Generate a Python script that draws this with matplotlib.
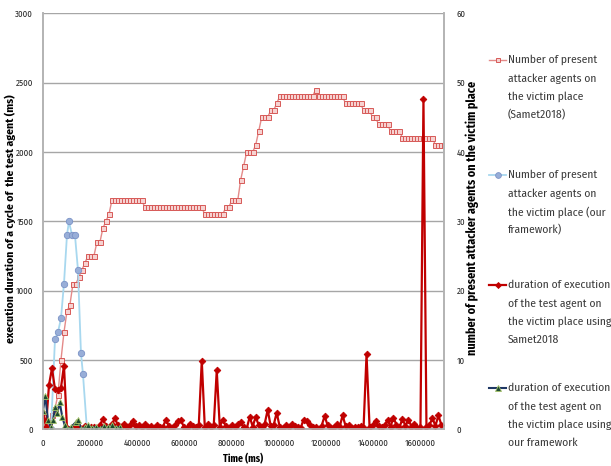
import matplotlib
matplotlib.use("Agg")
import matplotlib.pyplot as plt
from matplotlib.lines import Line2D

# ---------------- data ----------------
sample_step_ms = 12700  # sampling period of the Samet2018 experiment

samet_agents = [0, 0, 1, 2, 3, 5, 10, 14, 17, 18, 21, 21, 22, 23, 24, 25, 25, 25, 27, 27, 29, 30, 31,
                33, 33, 33, 33, 33, 33, 33, 33, 33, 33, 33,
                32, 32, 32, 32, 32, 32, 32, 32, 32, 32, 32, 32, 32, 32, 32, 32, 32, 32, 32, 32,
                31, 31, 31, 31, 31, 31, 31,
                32, 32, 33, 33, 33,
                36, 38, 40, 40, 40, 41, 43, 45, 45, 45, 46, 46, 47,
                48, 48, 48, 48, 48, 48, 48, 48, 48, 48, 48, 48,
                49,
                48, 48, 48, 48, 48, 48, 48, 48, 48,
                47, 47, 47, 47, 47, 47,
                46, 46, 46, 45, 45,
                44, 44, 44, 44, 43, 43, 43, 43,
                42, 42, 42, 42, 42, 42, 42, 42, 42, 42, 42,
                41, 41, 41, 41]

samet_duration = [120, 20, 320, 440, 290, 280, 300, 460, 10, 5,
                  15, 10, 20, 5, 25, 10, 15, 20, 5, 30,
                  75, 25, 10, 35, 80, 30, 15, 40, 20, 30,
                  60, 25, 30, 20, 35, 15, 25, 10, 30, 20,
                  15, 70, 25, 10, 30, 60, 65, 20, 10, 40,
                  25, 15, 30, 495, 20, 35, 15, 30, 425, 20,
                  70, 25, 10, 30, 20, 35, 50, 15, 5, 90,
                  20, 90, 30, 15, 40, 140, 25, 30, 120, 20,
                  10, 30, 15, 40, 25, 20, 10, 70, 60, 30,
                  20, 15, 5, 25, 95, 30, 10, 20, 35, 15,
                  100, 25, 30, 10, 20, 15, 25, 10, 540, 20,
                  30, 60, 25, 15, 30, 65, 20, 85, 30, 15,
                  75, 25, 70, 20, 35, 10, 15, 2380, 20, 30,
                  80, 25, 100, 30]

ours_agents_t = [0, 16900, 33900, 50800, 63500, 76200, 88900, 101600, 110000, 122800,
                 135500, 148200, 160900, 169300, 186300, 203000, 220000, 237000, 254000,
                 271000, 288000, 305000, 322000]
ours_agents = [0, 0, 0, 13, 14, 16, 21, 28, 30, 28,
               28, 23, 11, 8, 0, 0, 0, 0, 0,
               0, 0, 0, 0]

ours_duration_t = [0, 9700, 21200, 32600, 42300, 52100, 60500, 70700, 81700, 91900,
                   102900, 118500, 138400, 148200, 162100, 177800, 190500, 207400, 224300,
                   241300, 258200, 275100, 292100, 309000, 326000]
ours_duration = [135, 240, 65, 15, 65, 160, 115, 195, 90, 30,
                 5, 15, 50, 65, 5, 15, 30, 10, 20,
                 5, 25, 15, 30, 10, 20]

x_ticks = [0, 200000, 400000, 600000, 800000, 1000000, 1200000, 1400000, 1600000]
left_ticks = [0, 500, 1000, 1500, 2000, 2500, 3000]
right_ticks = [0, 10, 20, 30, 40, 50, 60]

legend_texts = [
    ["Number of present", "attacker agents on", "the victim place", "(Samet2018)"],
    ["Number of present", "attacker agents on", "the victim place (our", "framework)"],
    ["duration of execution", "of the test agent on", "the victim place using", "Samet2018"],
    ["duration of execution", "of the test agent on", "the victim place using", "our framework"],
]

samet_t = [i * sample_step_ms for i in range(len(samet_agents))]
samet_dur_t = [i * sample_step_ms for i in range(len(samet_duration))]

# ---------------- style ----------------
NARROW = ['Fira Sans Condensed', 'Archivo Narrow', 'DejaVu Sans']
W, H = 611, 466
grid_c = '#a6a6a6'

pink = dict(color='#e48a89', lw=1.0, marker='s', ms=3.6, mfc='#f6d2d1', mec='#d75a58', mew=0.7)
blue = dict(color='#a8d8ef', lw=1.3, marker='o', ms=4.6, mfc='#98aed8', mec='#7a92c6', mew=0.6)
red = dict(color='#c00000', lw=1.6, marker='D', ms=3.4, mfc='#c00000', mec='#c00000', mew=0.6)
green = dict(color='#1f3864', lw=1.5, marker='^', ms=5.0, mfc='#1d4a30', mec='#a7c46a', mew=0.6)

fig = plt.figure(figsize=(W / 100, H / 100), dpi=100)
x0, x1, ytop, ybot = 43, 444, 13.3, 429.3
ax = fig.add_axes([x0 / W, 1 - ybot / H, (x1 - x0) / W, (ybot - ytop) / H])
ax2 = ax.twinx()
ax.set_zorder(ax2.get_zorder() + 1)
ax.patch.set_visible(False)

ax2.plot(samet_t, samet_agents, **pink)
ax2.plot(ours_agents_t, ours_agents, **blue)
ax.plot(samet_dur_t, samet_duration, **red)
ax.plot(ours_duration_t, ours_duration, **green)

ax.set_xlim(0, 1700000)
ax.set_ylim(0, 3000)
ax2.set_ylim(0, 60)
ax.set_xticks(x_ticks)
ax.set_xticklabels([str(v) for v in x_ticks])
ax.set_yticks(left_ticks)
ax.set_yticklabels([str(v) for v in left_ticks])
ax2.set_yticks(right_ticks)
ax2.set_yticklabels([str(v) for v in right_ticks])

ax2.yaxis.grid(True, color=grid_c, lw=1.0)
ax2.set_axisbelow(True)

for a in (ax, ax2):
    a.spines['top'].set_visible(False)
    for s in ('left', 'right', 'bottom'):
        a.spines[s].set_color('#b3b3b3')
        a.spines[s].set_linewidth(1.2)
    a.tick_params(length=0)

ax.tick_params(axis='y', pad=7)
ax.tick_params(axis='x', pad=7)
ax2.tick_params(axis='y', pad=9)
for lab in ax.get_xticklabels() + ax.get_yticklabels() + ax2.get_yticklabels():
    lab.set_family(NARROW)
    lab.set_fontsize(6.4)
    lab.set_color('#222222')

ax.set_xlabel('Time (ms)', family=NARROW, fontweight='bold', fontsize=7.2, labelpad=4)
fig.text(11 / W, 1 - 219 / H, 'execution duration of a cycle of  the test agent (ms)',
         rotation=90, ha='center', va='center', family=NARROW, fontweight='bold', fontsize=8.3)
fig.text(472 / W, 1 - 218 / H, 'number of present attacker agents on the victim place',
         rotation=90, ha='center', va='center', family=NARROW, fontweight='bold', fontsize=8.7)

# legend (manual, Excel-like right panel)
entry_y = [60, 175, 285, 388]
styles = [pink, blue, red, green]
for ey, lines, st in zip(entry_y, legend_texts, styles):
    yf = 1 - ey / H
    fig.add_artist(Line2D([489 / W, 506 / W], [yf, yf], transform=fig.transFigure,
                          color=st['color'], lw=st['lw']))
    fig.add_artist(Line2D([497.5 / W], [yf], transform=fig.transFigure, linestyle='none',
                          marker=st['marker'], ms=st['ms'] * 0.9, mfc=st['mfc'], mec=st['mec'],
                          mew=st['mew']))
    for k, t in enumerate(lines):
        fig.text(508 / W, 1 - (ey + k * 18.4) / H, t, ha='left', va='center',
                 family=NARROW, fontsize=8.3, color='#3a3a3a')

fig.savefig('out.png', dpi=100)
